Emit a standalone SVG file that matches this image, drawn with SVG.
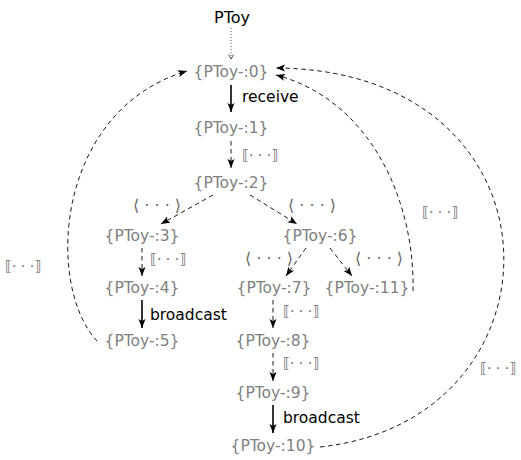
<svg xmlns="http://www.w3.org/2000/svg" width="521" height="460" viewBox="0 0 521 460">
  <style>
    text { font-family: "DejaVu Sans", "Liberation Sans", sans-serif; font-size: 15.5px; }
    .state { fill: #7f7f7f; text-anchor: middle; }
    .root { fill: #000; text-anchor: middle; font-size: 16px; }
    .act { fill: #000; }
    .sem { fill: #666; font-size: 14px; }
    .ang { fill: #666; font-size: 16px; }
    .solid { stroke: #000; stroke-width: 1.6; fill: none; }
    .dash { stroke: #000; stroke-width: 0.9; fill: none; stroke-dasharray: 4.5 3.5; }
    .dot { stroke: #444; stroke-width: 0.9; fill: none; stroke-dasharray: 1 2; }
  </style>
  <defs>
    <marker id="tip" markerUnits="userSpaceOnUse" markerWidth="10" markerHeight="8" refX="9" refY="3.5" orient="auto">
      <path d="M0,0 L9,3.5 L0,7 L2,3.5 z" fill="#000"/>
    </marker>
    <marker id="vee" markerUnits="userSpaceOnUse" markerWidth="8" markerHeight="8" refX="5" refY="3" orient="auto">
      <path d="M0.5,0.5 L5,3 L0.5,5.5" fill="none" stroke="#444" stroke-width="0.9"/>
    </marker>
  </defs>

  <!-- transitions -->
  <g id="connectors">
    <path class="dot" d="M231,28 L231,59" marker-end="url(#vee)"/>
    <path class="solid" d="M231,85 L231,112" marker-end="url(#tip)"/>
    <path class="dash" d="M231,141 L231,168" marker-end="url(#tip)"/>
    <path class="dash" d="M213,195 L161,224" marker-end="url(#tip)"/>
    <path class="dash" d="M250,195 L297,224" marker-end="url(#tip)"/>
    <path class="dash" d="M142,248 L142,276" marker-end="url(#tip)"/>
    <path class="solid" d="M142,300 L142,328" marker-end="url(#tip)"/>
    <path class="dash" d="M306,248 L286,276" marker-end="url(#tip)"/>
    <path class="dash" d="M330,248 L352,276" marker-end="url(#tip)"/>
    <path class="dash" d="M273,300 L273,328" marker-end="url(#tip)"/>
    <path class="dash" d="M273,353 L273,381" marker-end="url(#tip)"/>
    <path class="solid" d="M273,405 L273,433" marker-end="url(#tip)"/>
    <!-- loops back to the initial state -->
    <path class="dash" d="M97,341 C45,285 55,110 187,71" marker-end="url(#tip)"/>
    <path class="dash" d="M413,291 C415,200 370,100 276,75" marker-end="url(#tip)"/>
    <path class="dash" d="M320,447 C572,420 572,70 276,68" marker-end="url(#tip)"/>

    <text class="act" x="242" y="102">receive</text>
    <text class="sem" x="242" y="160">⟦· · ·⟧</text>
    <text class="ang" x="133" y="211">⟨ · · · ⟩</text>
    <text class="ang" x="288" y="211">⟨ · · · ⟩</text>
    <text class="sem" x="150" y="264">⟦· · ·⟧</text>
    <text class="ang" x="245" y="264">⟨ · · · ⟩</text>
    <text class="ang" x="355" y="264">⟨ · · · ⟩</text>
    <text class="act" x="150" y="320">broadcast</text>
    <text class="sem" x="283" y="316">⟦· · ·⟧</text>
    <text class="sem" x="283" y="368">⟦· · ·⟧</text>
    <text class="act" x="283" y="423">broadcast</text>
    <text class="sem" x="5" y="271">⟦· · ·⟧</text>
    <text class="sem" x="422" y="217">⟦· · ·⟧</text>
    <text class="sem" x="480" y="373">⟦· · ·⟧</text>
  </g>

  <g id="ptoy"><text class="root" x="232" y="23">PToy</text></g>
  <g id="s0"><text class="state" x="231" y="77">{PToy-:0}</text></g>
  <g id="s1"><text class="state" x="231" y="133">{PToy-:1}</text></g>
  <g id="s2"><text class="state" x="231" y="188">{PToy-:2}</text></g>
  <g id="s3"><text class="state" x="142" y="241">{PToy-:3}</text></g>
  <g id="s6"><text class="state" x="320" y="241">{PToy-:6}</text></g>
  <g id="s4"><text class="state" x="142" y="293">{PToy-:4}</text></g>
  <g id="s7"><text class="state" x="274" y="293">{PToy-:7}</text></g>
  <g id="s11"><text class="state" x="367" y="293">{PToy-:11}</text></g>
  <g id="s5"><text class="state" x="142" y="346">{PToy-:5}</text></g>
  <g id="s8"><text class="state" x="273" y="346">{PToy-:8}</text></g>
  <g id="s9"><text class="state" x="273" y="398">{PToy-:9}</text></g>
  <g id="s10"><text class="state" x="273" y="451">{PToy-:10}</text></g>
</svg>
